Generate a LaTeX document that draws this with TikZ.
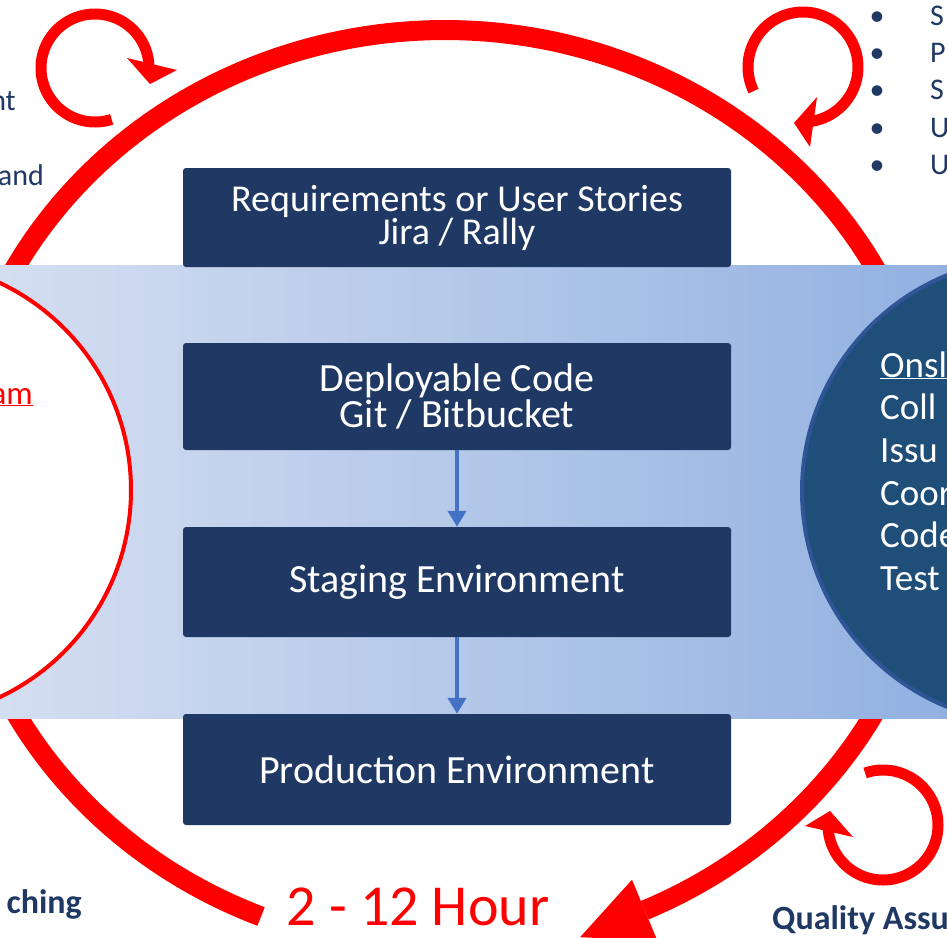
\documentclass[tikz,border=0pt]{standalone}
\usepackage{fontspec}
\setmainfont{Carlito}
\usetikzlibrary{arrows.meta,calc}
\definecolor{navy}{RGB}{32,56,100}
\definecolor{txtnavy}{RGB}{31,56,100}
\definecolor{bandL}{RGB}{212,222,241}
\definecolor{bandR}{RGB}{146,177,225}
\definecolor{circfill}{RGB}{31,78,121}
\definecolor{circedge}{RGB}{47,85,151}
\definecolor{flowblue}{RGB}{68,114,196}
\definecolor{bigred}{RGB}{255,0,0}
\begin{document}
\begin{tikzpicture}[x=1pt,y=-1pt,
  stepbox/.style={fill=navy, rounded corners=3pt, text=white, align=center,
    inner sep=0pt, minimum width=548pt, font=\fontsize{40}{34}\selectfont},
  flowarrow/.style={draw=flowblue, line width=4.5pt, -{Triangle[width=18pt,length=16pt]}},
  bigarc/.style={draw=bigred, line width=20pt},
  curl/.style={draw=bigred, line width=11pt},
  sidetxt/.style={text=txtnavy, inner sep=0pt, font=\fontsize{30}{36}\selectfont},
  boldtxt/.style={text=txtnavy, inner sep=0pt, font=\fontsize{34}{40}\selectfont\bfseries},
  circtxt/.style={text=white, inner sep=0pt, anchor=base west, font=\fontsize{37}{43}\selectfont},
  bultxt/.style={text=txtnavy, inner sep=0pt, font=\fontsize{30}{36}\selectfont}
]
\useasboundingbox (0,0) rectangle (947,937);
\clip (0,0) rectangle (947,937);
\fill[white] (0,0) rectangle (947,937);

% big cycle arrow
\draw[bigarc] plot[domain=112:426,samples=240] ({445+491*cos(\x)},{490+460*sin(\x)});
\fill[bigred] (632.0,879.7) -- (657.4,940.7) -- (580.1,937.2) -- cycle;

% small curl arrows
\draw[curl] plot[domain=72:360,samples=100] ({95+54*cos(\x)},{68+54*sin(\x)});
\fill[bigred] (127,58) -- (177,70) -- (150,84) -- cycle;
\draw[curl] plot[domain=154:443,samples=100] ({803+55*cos(\x)},{67+55*sin(\x)});
\fill[bigred] (817,97) -- (794,123) -- (810,147) -- cycle;
\draw[curl] plot[domain=251:536,samples=100] ({883+55*cos(\x)},{825+55*sin(\x)});
\fill[bigred] (805,826) -- (830,811) -- (853,837) -- cycle;

% band
\shade[left color=bandL, right color=bandR] (0,265) rectangle (947,718);

% side circles
\draw[bigred, line width=4pt, fill=white] (-98,490) circle[radius=229pt];
\draw[circedge, line width=4pt, fill=circfill] (1035,491) circle[radius=233pt];

% boxes
\node[stepbox, minimum height=99pt, font=\fontsize{38}{33}\selectfont] (req) at (457,217.5) {Requirements or User Stories\\Jira / Rally};
\node[stepbox, minimum height=107pt] (code) at (457,396.5) {Deployable Code\\Git / Bitbucket};
\node[stepbox, minimum height=110pt] (stage) at (457,582) {Staging Environment};
\node[stepbox, minimum height=111pt] (prod) at (457,769.5) {Production Environment};

\draw[flowarrow] (code.south) -- (stage.north);
\draw[flowarrow] (stage.south) -- (prod.north);

% left texts
\node[sidetxt, anchor=base east] (nt) at (16,110) {nt};
\node[sidetxt, anchor=base east] (and) at (44,185) {and};
\node[text=bigred, inner sep=0pt, anchor=base east, font=\fontsize{33}{38}\selectfont] (am) at (33,404) {\underline{am}};
\node[boldtxt, anchor=base east] (ching) at (82,913) {ching};

% bullets top right
\foreach \yy/\lt [count=\i] in {25/S,62/P,99/S,137/U,174/U}{
  \node[bultxt, anchor=base] (bul\i) at (877,\yy) {\textbullet};
  \node[bultxt, anchor=base west] (bt\i) at (930,\yy) {\lt};
}

% right circle texts
\node[circtxt] (c1) at (880,377) {\underline{Onsl}};
\node[circtxt] (c2) at (880,419.5) {Coll};
\node[circtxt] (c3) at (880,462) {Issu};
\node[circtxt] (c4) at (880,505) {Coor};
\node[circtxt] (c5) at (880,547.5) {Code};
\node[circtxt] (c6) at (880,590) {Test};

% bottom texts
\node[text=bigred, inner sep=0pt, anchor=base, font=\fontsize{58}{64}\selectfont] (hours) at (418,925) {2 - 12 Hour};
\node[boldtxt, anchor=base west] (qa) at (772,929) {Quality Assu};
\end{tikzpicture}
\end{document}
